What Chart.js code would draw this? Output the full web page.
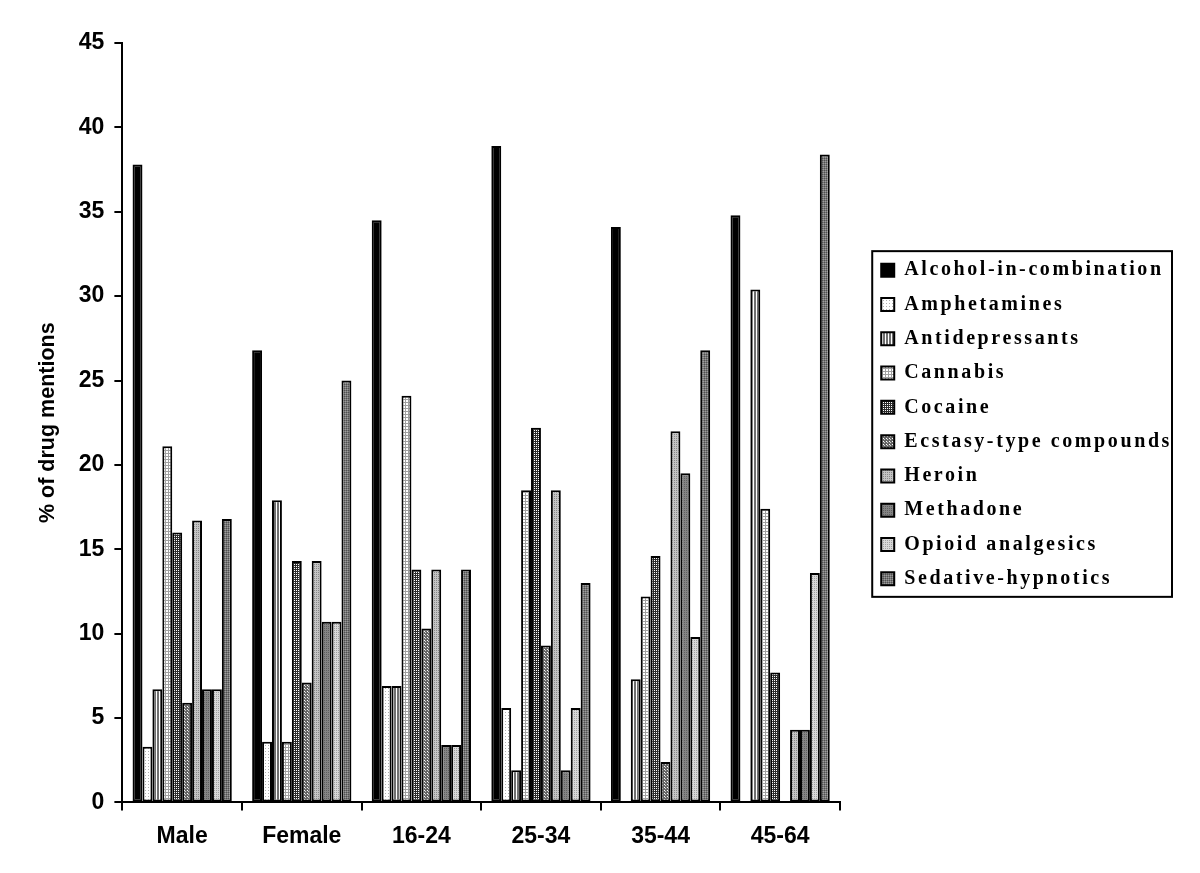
<!DOCTYPE html>
<html>
<head>
<meta charset="utf-8">
<script src="https://cdn.jsdelivr.net/npm/chart.js@4.4.1/dist/chart.umd.min.js"></script>
<style>
  html, body { margin: 0; padding: 0; background: #fff; }
  #wrap { width: 1200px; height: 873px; }
</style>
</head>
<body>
<div id="wrap"><canvas id="drugChart" width="1200" height="873"></canvas></div>
<script>
// groups along the x axis
const categories = ['Male', 'Female', '16-24', '25-34', '35-44', '45-64'];

const drugNames = [
  'Alcohol-in-combination', 'Amphetamines', 'Antidepressants', 'Cannabis', 'Cocaine',
  'Ecstasy-type compounds', 'Heroin', 'Methadone', 'Opioid analgesics', 'Sedative-hypnotics'
];

// % of drug mentions, one value per group
const alcohol         = [37.8, 26.8, 34.5, 38.9, 34.1, 34.8];
const amphetamines    = [3.3, 3.6, 6.9, 5.6, 0, 0];
const antidepressants = [6.7, 17.9, 6.9, 1.9, 7.3, 30.4];
const cannabis        = [21.1, 3.6, 24.1, 18.5, 12.2, 17.4];
const cocaine         = [16.0, 14.3, 13.8, 22.2, 14.6, 7.7];
const ecstasy         = [5.9, 7.1, 10.3, 9.3, 2.4, 0];
const heroin          = [16.7, 14.3, 13.8, 18.5, 22.0, 4.3];
const methadone       = [6.7, 10.7, 3.4, 1.9, 19.5, 4.3];
const opioids         = [6.7, 10.7, 3.4, 5.6, 9.8, 13.6];
const sedatives       = [16.8, 25.0, 13.8, 13.0, 26.8, 38.4];

const yTicks = [0, 5, 10, 15, 20, 25, 30, 35, 40, 45];

const seriesValues = [alcohol, amphetamines, antidepressants, cannabis, cocaine,
  ecstasy, heroin, methadone, opioids, sedatives];

// small tiled fills, like the old greyscale hatches
function pattern(w, h, bg, dots) {
  const c = document.createElement('canvas');
  c.width = w; c.height = h;
  const g = c.getContext('2d');
  g.fillStyle = bg;
  g.fillRect(0, 0, w, h);
  dots.forEach(function(d) {
    g.fillStyle = d[2];
    g.fillRect(d[0], d[1], d[3] || 1, d[4] || 1);
  });
  return g.createPattern(c, 'repeat');
}

const fills = [
  '#000000',
  pattern(3, 3, '#ffffff', [[1, 1, '#b0b0b0']]),
  pattern(3, 1, '#ffffff', [[1, 0, '#707070', 2, 1]]),
  pattern(3, 3, '#ffffff', [[0, 0, '#a0a0a0', 3, 1], [0, 0, '#a0a0a0', 1, 3]]),
  pattern(2, 2, '#2c2c2c', [[0, 0, '#ffffff']]),
  pattern(3, 3, '#666666', [[1, 1, '#ffffff'], [2, 2, '#d0d0d0']]),
  pattern(2, 2, '#c4c4c4', [[0, 0, '#888888']]),
  pattern(2, 2, '#858585', [[0, 0, '#606060']]),
  pattern(2, 2, '#d8d8d8', [[0, 0, '#a0a0a0']]),
  pattern(2, 2, '#767676', [[0, 0, '#505050'], [1, 1, '#9c9c9c']])
];

const LEGEND_GAP = 27;
const LEGEND_DY = -28;
const LEGEND_SPACING = '2.6px';

// legend text is letter-spaced in the original, and sits a bit away from the plot
const legendTweaks = {
  id: 'legendTweaks',
  afterInit(chart) {
    const lg = chart.legend;
    const fit = lg.fit, draw = lg.draw;
    lg.fit = function() {
      const ctx = this.ctx;
      ctx.save();
      ctx.letterSpacing = LEGEND_SPACING;
      fit.call(this);
      ctx.restore();
      this.width += LEGEND_GAP;
    };
    lg.draw = function() {
      const ctx = this.ctx;
      ctx.save();
      ctx.letterSpacing = LEGEND_SPACING;
      ctx.translate(LEGEND_GAP, LEGEND_DY);
      draw.call(this);
      ctx.restore();
    };
  },
  afterDraw(chart) {
    const boxes = chart.legend.legendHitBoxes;
    if (!boxes || !boxes.length) return;
    let l = Infinity, t = Infinity, r = -Infinity, b = -Infinity;
    boxes.forEach(function(h) {
      l = Math.min(l, h.left); t = Math.min(t, h.top);
      r = Math.max(r, h.left + h.width); b = Math.max(b, h.top + h.height);
    });
    const ctx = chart.ctx;
    ctx.save();
    ctx.strokeStyle = '#000';
    ctx.lineWidth = 2;
    ctx.translate(LEGEND_GAP, LEGEND_DY);
    ctx.strokeRect(l - 9, t - 9, r - l + 9, b - t + 17);
    ctx.restore();
  }
};

const chart = new Chart(document.getElementById('drugChart'), {
  type: 'bar',
  data: {
    labels: categories,
    datasets: drugNames.map(function(name, i) {
      return {
        label: name,
        data: seriesValues[i],
        backgroundColor: fills[i],
        borderColor: '#000',
        borderWidth: 2,
        borderSkipped: false,
        categoryPercentage: 0.83,
        barPercentage: 1.0
      };
    })
  },
  options: {
    responsive: false,
    animation: false,
    devicePixelRatio: 1,
    layout: { padding: { left: 12, top: 43, right: 18, bottom: 11 } },
    plugins: {
      tooltip: { enabled: false },
      legend: {
        position: 'right',
        maxWidth: 500,
        labels: {
          color: '#000',
          font: { family: '"Liberation Serif", "Times New Roman", serif', size: 20, weight: 'bold' },
          boxWidth: 13,
          boxHeight: 13,
          padding: 14.3
        }
      }
    },
    scales: {
      x: {
        grid: { display: true, drawOnChartArea: false, drawTicks: true, tickLength: 8, color: '#000', lineWidth: 2 },
        border: { display: true, color: '#000', width: 2 },
        ticks: {
          color: '#000',
          padding: 12,
          font: { family: '"Liberation Sans", Arial, sans-serif', size: 23, weight: 'bold' }
        }
      },
      y: {
        min: 0,
        max: 45,
        afterBuildTicks: function(axis) {
          axis.ticks = yTicks.map(function(v) { return { value: v }; });
        },
        grid: { display: true, drawOnChartArea: false, drawTicks: true, tickLength: 8, color: '#000', lineWidth: 2 },
        border: { display: true, color: '#000', width: 2 },
        ticks: {
          color: '#000',
          padding: 10,
          font: { family: '"Liberation Sans", Arial, sans-serif', size: 23, weight: 'bold' }
        },
        title: {
          display: true,
          text: '% of drug mentions',
          color: '#000',
          padding: { top: 23, bottom: 8 },
          font: { family: '"Liberation Sans", Arial, sans-serif', size: 21.5, weight: 'bold' }
        }
      }
    }
  },
  plugins: [legendTweaks]
});
</script>
</body>
</html>
